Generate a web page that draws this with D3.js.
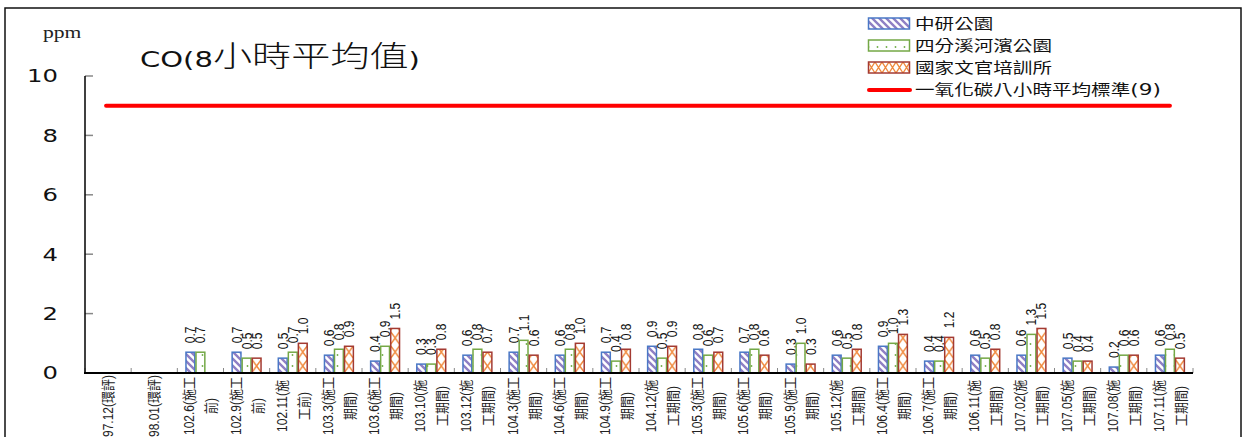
<!DOCTYPE html>
<html>
<head>
<meta charset="utf-8">
<script src="https://cdn.jsdelivr.net/npm/d3@7"></script>
<style>
  body { margin: 0; background: #fff; }
  svg { display: block; }
</style>
</head>
<body>
<svg id="chart" width="1243" height="437"></svg>
<script>
// categories (line break where the label wraps)
const categories = ['97.12(環評)', '98.01(環評)', '102.6(施工\n前)', '102.9(施工\n前)', '102.11(施\n工前)',
  '103.3(施工\n期間)', '103.6(施工\n期間)', '103.10(施\n工期間)', '103.12(施\n工期間)', '104.3(施工\n期間)',
  '104.6(施工\n期間)', '104.9(施工\n期間)', '104.12(施\n工期間)', '105.3(施工\n期間)', '105.6(施工\n期間)',
  '105.9(施工\n期間)', '105.12(施\n工期間)', '106.4(施工\n期間)', '106.7(施工\n期間)', '106.11(施\n工期間)',
  '107.02(施\n工期間)', '107.05(施\n工期間)', '107.08(施\n工期間)', '107.11(施\n工期間)'];

const seriesNames = ['中研公園', '四分溪河濱公園', '國家文官培訓所'];
const zhongyan = [null, null, 0.7, 0.7, 0.5, 0.6, 0.4, 0.3, 0.6, 0.7, 0.6, 0.7, 0.9, 0.8, 0.7, 0.3, 0.6, 0.9, 0.4, 0.6, 0.6, 0.5, 0.2, 0.6];
const sifen    = [null, null, 0.7, 0.5, 0.7, 0.8, 0.9, 0.3, 0.8, 1.1, 0.8, 0.4, 0.5, 0.6, 0.8, 1.0, 0.5, 1.0, 0.4, 0.5, 1.3, 0.4, 0.6, 0.8];
const guojia   = [null, null, null, 0.5, 1.0, 0.9, 1.5, 0.8, 0.7, 0.6, 1.0, 0.8, 0.9, 0.7, 0.6, 0.3, 0.8, 1.3, 1.2, 0.8, 1.5, 0.4, 0.6, 0.5];
const standardName = '一氧化碳八小時平均標準';
const standardValue = 9;
const yTicks = [0, 2, 4, 6, 8, 10];

// the source picture is stretched sideways, so text gets a horizontal scale
const SX = 1.35;

const svg = d3.select('#chart');
const defs = svg.append('defs');

svg.append('rect').attr('width', 1243).attr('height', 437).attr('fill', '#fff');
svg.append('rect')
  .attr('x', 5).attr('y', 8).attr('width', 1236).attr('height', 445)
  .attr('fill', 'none').attr('stroke', '#111').attr('stroke-width', 1.5);

var x = d3.scaleBand()
  .domain(d3.range(categories.length))
  .range([85, 1193]);

var xIn = d3.scaleBand()
  .domain([0, 1, 2])
  .range([0, x.bandwidth()])
  .paddingOuter(0.8);

var y = d3.scaleLinear()
  .domain([0, 10])
  .range([373, 76]);

// patterns
var pBlue = defs.append('pattern')
  .attr('id', 'pBlue').attr('patternUnits', 'userSpaceOnUse')
  .attr('width', 7).attr('height', 7);
pBlue.append('rect').attr('width', 7).attr('height', 7).attr('fill', '#fff');
pBlue.append('path').attr('d', 'M-1,-1 L8,8 M-4,3 L4,11 M3,-4 L11,4')
  .attr('stroke', '#8f7fc4').attr('stroke-width', 2.4);

var pGreen = defs.append('pattern')
  .attr('id', 'pGreen').attr('patternUnits', 'userSpaceOnUse')
  .attr('width', 9).attr('height', 11);
pGreen.append('rect').attr('width', 9).attr('height', 11).attr('fill', '#fff');
pGreen.append('circle').attr('cx', 4.5).attr('cy', 3).attr('r', 0.9).attr('fill', '#70ad47');

const gPlot = svg.append('g');

const series = [
  {name: seriesNames[0], values: zhongyan, stroke: '#4a78c6', fill: 'url(#pBlue)'},
  {name: seriesNames[1], values: sifen, stroke: '#74a846', fill: 'url(#pGreen)'},
  {name: seriesNames[2], values: guojia, stroke: '#a33a32', fill: null}
];

series.forEach(function(s, si) {
  var pts = s.values.map(function(v, i) { return {v: v, i: i}; })
    .filter(function(d) { return d.v != null; });

  if (si === 2) {
    // zigzag cross pattern aligned with each bar
    pts.forEach(function(d) {
      var bx = x(d.i) + xIn(si), bw = xIn.bandwidth();
      var p = defs.append('pattern')
        .attr('id', 'pRed' + d.i).attr('patternUnits', 'userSpaceOnUse')
        .attr('x', bx).attr('y', y(0))
        .attr('width', bw).attr('height', 28);
      p.append('rect').attr('width', bw).attr('height', 28).attr('fill', '#fff');
      p.append('path')
        .attr('d', 'M0,0 L' + bw + ',14 L0,28 M' + bw + ',0 L0,14 L' + bw + ',28')
        .attr('fill', 'none').attr('stroke', '#f0883a').attr('stroke-width', 1.4);
    });
  }

  gPlot.selectAll('.bar' + si)
    .data(pts)
    .enter()
    .append('rect')
    .attr('class', 'bar' + si)
    .attr('x', function(d) { return x(d.i) + xIn(si) + 0.6; })
    .attr('y', function(d) { return y(d.v); })
    .attr('width', xIn.bandwidth() - 1.2)
    .attr('height', function(d) { return y(0) - y(d.v); })
    .attr('fill', function(d) { return s.fill || 'url(#pRed' + d.i + ')'; })
    .attr('stroke', s.stroke)
    .attr('stroke-width', 1.5);

  gPlot.selectAll('.lab' + si)
    .data(pts)
    .enter()
    .append('text')
    .attr('class', 'lab' + si)
    .attr('transform', function(d) {
      var cx = x(d.i) + xIn(si) + xIn.bandwidth() / 2;
      return 'translate(' + cx + ',' + (y(d.v) - 9) + ') scale(1.2,1) rotate(-90)';
    })
    .attr('dy', '0.35em')
    .attr('font-family', 'Liberation Sans, Arial, sans-serif')
    .attr('font-size', 12)
    .attr('fill', '#111')
    .text(function(d) { return d3.format('.1f')(d.v); });
});

// axes
const gAxis = svg.append('g');
gAxis.selectAll('.yt')
  .data(yTicks)
  .enter()
  .append('line')
  .attr('x1', 85).attr('x2', 93)
  .attr('y1', function(d) { return y(d); })
  .attr('y2', function(d) { return y(d); })
  .attr('stroke', '#888').attr('stroke-width', 1.5);

gAxis.selectAll('.xt')
  .data(d3.range(categories.length + 1))
  .enter()
  .append('line')
  .attr('x1', function(d) { return 85 + d * x.step(); })
  .attr('x2', function(d) { return 85 + d * x.step(); })
  .attr('y1', y(0)).attr('y2', y(0) - 5)
  .attr('stroke', '#888').attr('stroke-width', 1);

gAxis.append('line')
  .attr('x1', 85).attr('x2', 85).attr('y1', y(10)).attr('y2', y(0) + 1)
  .attr('stroke', '#000').attr('stroke-width', 1.5);
gAxis.append('line')
  .attr('x1', 84).attr('x2', 1193).attr('y1', y(0)).attr('y2', y(0))
  .attr('stroke', '#000').attr('stroke-width', 2);

gAxis.selectAll('.ylab')
  .data(yTicks)
  .enter()
  .append('text')
  .attr('transform', function(d) { return 'translate(58,' + y(d) + ') scale(' + SX + ',1)'; })
  .attr('dy', '0.36em')
  .attr('text-anchor', 'end')
  .attr('font-family', 'DejaVu Sans, Verdana, sans-serif')
  .attr('font-size', 18)
  .attr('fill', '#111')
  .text(function(d) { return d; });

// category labels, rotated, lines centred around the band centre
var xl = gAxis.selectAll('.xlab')
  .data(categories)
  .enter()
  .append('g');
xl.each(function(label, i) {
  var lines = label.split('\n');
  var cx = x(i) + x.bandwidth() / 2;
  var g = d3.select(this);
  lines.forEach(function(ln, k) {
    var off = (k - (lines.length - 1) / 2) * 22;
    g.append('text')
      .attr('transform', 'translate(' + (cx + off) + ',406) scale(1.15,1) rotate(-90)')
      .attr('dy', '0.36em')
      .attr('text-anchor', 'middle')
      .attr('font-family', 'Liberation Sans, Arial, "Noto Sans CJK TC", sans-serif')
      .attr('font-size', 12)
      .attr('fill', '#222')
      .text(ln);
  });
});

// standard line
svg.append('line')
  .attr('x1', x(0) + x.bandwidth() / 2 - 2)
  .attr('x2', x(categories.length - 1) + x.bandwidth() / 2)
  .attr('y1', y(standardValue)).attr('y2', y(standardValue))
  .attr('stroke', '#ff0000').attr('stroke-width', 4).attr('stroke-linecap', 'round');

// ppm + title
svg.append('text')
  .attr('transform', 'translate(43,38) scale(' + SX + ',1)')
  .attr('font-family', 'Liberation Serif, Times New Roman, serif')
  .attr('font-size', 16)
  .attr('fill', '#222')
  .text('ppm');

var title = svg.append('text')
  .attr('transform', 'translate(140,67) scale(' + SX + ',1)')
  .attr('font-family', 'DejaVu Sans, Verdana, "Noto Sans CJK TC", sans-serif')
  .attr('fill', '#111');
title.append('tspan').attr('font-size', 21.5).text('CO(8');
title.append('tspan').attr('font-size', 29).attr('font-family', '"Noto Sans CJK TC", sans-serif')
  .attr('font-weight', 300).text('小時平均值');
title.append('tspan').attr('font-size', 21.5).text(')');

// legend
const legend = svg.append('g');
const legendRows = [23.5, 45.5, 67.5, 90];
series.forEach(function(s, si) {
  var ly = legendRows[si];
  var fill = s.fill;
  if (!fill) {
    var p = defs.append('pattern')
      .attr('id', 'pRedLeg').attr('patternUnits', 'userSpaceOnUse')
      .attr('x', 868).attr('y', ly - 5.5)
      .attr('width', 14).attr('height', 11);
    p.append('rect').attr('width', 14).attr('height', 11).attr('fill', '#fff');
    p.append('path').attr('d', 'M0,0 L7,11 L14,0 M0,11 L7,0 L14,11')
      .attr('fill', 'none').attr('stroke', '#f0883a').attr('stroke-width', 1.3);
    fill = 'url(#pRedLeg)';
  }
  legend.append('rect')
    .attr('x', 868.5).attr('y', ly - 5.5)
    .attr('width', 41).attr('height', 11)
    .attr('fill', fill).attr('stroke', s.stroke).attr('stroke-width', 1.5);
  legend.append('text')
    .attr('transform', 'translate(915,' + ly + ') scale(' + SX + ',1)')
    .attr('dy', '0.36em')
    .attr('font-family', 'DejaVu Sans, Verdana, "Noto Sans CJK TC", sans-serif')
    .attr('font-size', 14.5)
    .attr('fill', '#111')
    .text(s.name);
});
legend.append('line')
  .attr('x1', 869).attr('x2', 910)
  .attr('y1', legendRows[3]).attr('y2', legendRows[3])
  .attr('stroke', '#ff0000').attr('stroke-width', 4).attr('stroke-linecap', 'round');
var stdText = legend.append('text')
  .attr('transform', 'translate(915,' + legendRows[3] + ') scale(' + SX + ',1)')
  .attr('dy', '0.36em')
  .attr('font-family', 'DejaVu Sans, Verdana, "Noto Sans CJK TC", sans-serif')
  .attr('font-size', 14.5)
  .attr('fill', '#111');
stdText.append('tspan').text(standardName);
stdText.append('tspan').attr('font-size', 16).text('(' + standardValue + ')');
</script>
</body>
</html>
